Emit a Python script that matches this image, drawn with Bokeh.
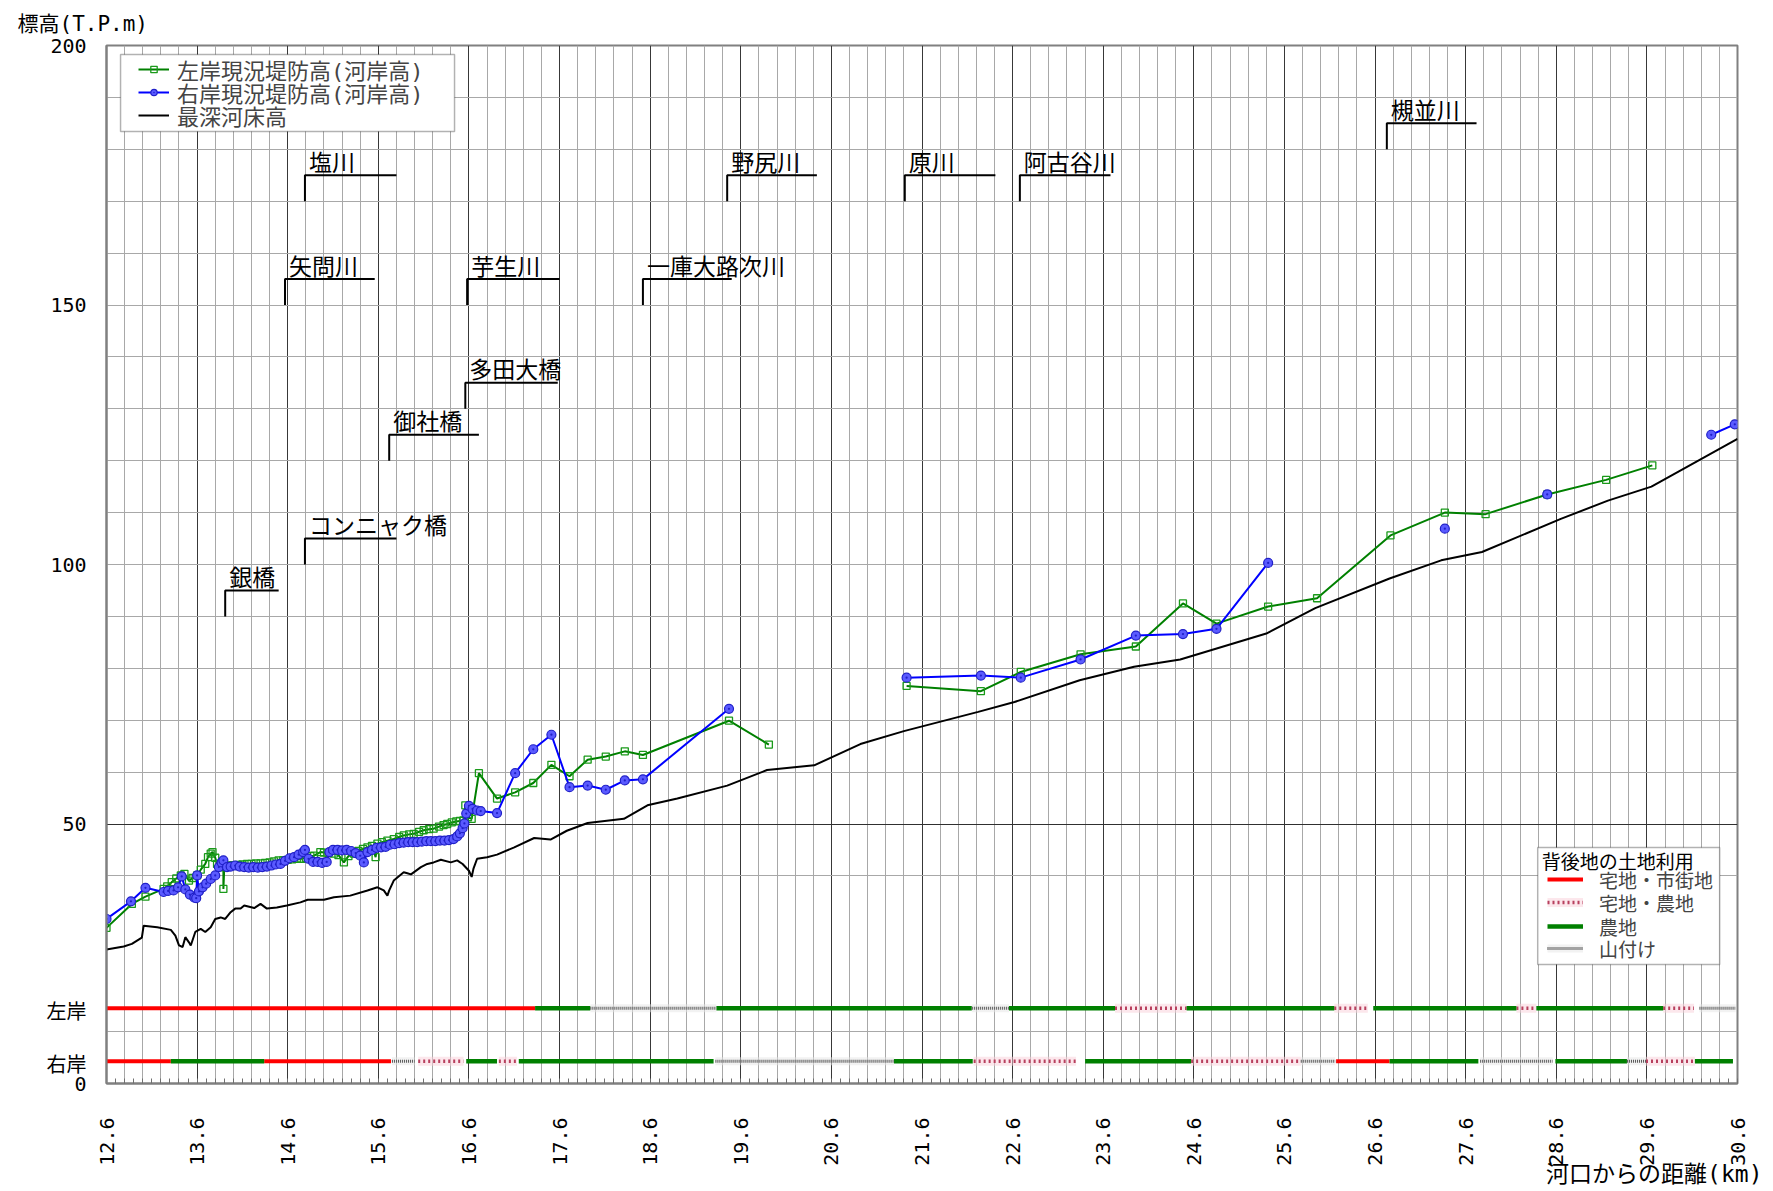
import math
import numpy as np
from bokeh.plotting import figure
from bokeh.models import (FixedTicker, CustomJSTickFormatter, Legend, LegendItem, Grid,
                          BoxAnnotation, Label, Title)
from bokeh.core.properties import value
from bokeh.embed import file_html
from bokeh.resources import INLINE

MONO = "DejaVu Sans Mono, Noto Sans CJK JP"
CJK = "Noto Sans CJK JP"

# ---- 最深河床高 (km from river mouth, elevation T.P.m) ----
bed_km = [12.60, 12.79, 12.88, 12.99, 13.01, 13.16, 13.31, 13.36, 13.40, 13.44, 13.47, 13.51,
          13.53, 13.58, 13.64, 13.69, 13.75, 13.80, 13.86, 13.91, 13.97, 14.02, 14.08, 14.12,
          14.23, 14.30, 14.37, 14.48, 14.59, 14.74, 14.82, 14.93, 15.00, 15.11, 15.29, 15.48,
          15.59, 15.66, 15.70, 15.72, 15.77, 15.88, 15.92, 15.96, 16.07, 16.14, 16.21, 16.29,
          16.40, 16.47, 16.53, 16.60, 16.63, 16.65, 16.69, 16.80, 16.91, 17.10, 17.32, 17.50,
          17.68, 17.91, 18.31, 18.57, 18.90, 19.45, 19.89, 20.41, 20.92, 21.40, 22.22, 22.62,
          23.34, 23.94, 24.45, 25.40, 25.94, 26.76, 27.33, 27.78, 28.65, 29.17, 29.65, 30.60]
bed_el = [25.8, 26.4, 26.9, 28.1, 30.4, 30.1, 29.6, 28.5, 26.6, 26.3, 28.2, 27.2,
          26.6, 29.2, 29.8, 29.2, 30.1, 31.7, 32.0, 31.7, 33.0, 33.7, 33.7, 34.3,
          33.8, 34.6, 33.7, 33.9, 34.3, 34.9, 35.4, 35.4, 35.4, 35.9, 36.2, 37.2,
          37.8, 37.2, 36.2, 37.2, 39.1, 40.7, 40.5, 40.3, 41.7, 42.3, 42.6, 43.1,
          42.6, 43.0, 42.3, 41.0, 39.8, 41.4, 43.3, 43.6, 44.1, 45.5, 47.3, 47.0,
          48.7, 50.2, 51.0, 53.6, 54.9, 57.4, 60.4, 61.3, 65.4, 67.9, 71.6, 73.5,
          77.7, 80.3, 81.7, 86.7, 91.6, 97.3, 100.8, 102.4, 108.8, 112.3, 115.0, 124.2]

# ---- 左岸現況堤防高 (河岸高) ----
left_km_1 = [12.60, 12.88, 13.03, 13.23, 13.27, 13.32, 13.37, 13.42, 13.46, 13.51, 13.55,
             13.60, 13.64, 13.69, 13.72, 13.75, 13.77, 13.80, 13.82, 13.86, 13.89, 13.89,
             13.90, 13.95, 14.00, 14.05, 14.10, 14.15, 14.20, 14.25, 14.30, 14.35, 14.40,
             14.45, 14.50, 14.55, 14.60, 14.65, 14.70, 14.75, 14.80, 14.85, 14.89, 14.96,
             15.00, 15.05, 15.11, 15.16, 15.22, 15.27, 15.33, 15.38, 15.43, 15.48, 15.53,
             15.57, 15.59, 15.64, 15.70, 15.77, 15.83, 15.88, 15.94, 15.99, 16.05, 16.10,
             16.16, 16.21, 16.27, 16.32, 16.36, 16.41, 16.46, 16.50, 16.54, 16.56, 16.59,
             16.63, 16.71, 16.91, 17.11, 17.31, 17.51, 17.71, 17.91, 18.11, 18.32, 18.52,
             19.47, 19.91]
left_el_1 = [30.0, 34.6, 36.0, 37.5, 38.0, 38.8, 39.5, 40.1, 40.4, 39.1, 39.6,
             40.1, 41.2, 42.3, 43.6, 44.3, 44.6, 43.5, 42.3, 41.8, 41.7, 37.5,
             41.7, 42.0, 42.0, 42.1, 42.2, 42.3, 42.3, 42.4, 42.4, 42.5, 42.6,
             42.8, 43.0, 43.0, 43.1, 43.2, 43.3, 43.3, 43.5, 43.8, 43.9, 44.6,
             44.5, 44.4, 44.3, 44.0, 42.6, 43.8, 44.3, 44.8, 45.2, 45.5, 45.8,
             43.6, 46.2, 46.5, 46.8, 47.1, 47.5, 47.8, 48.0, 48.1, 48.5, 48.8,
             49.0, 49.1, 49.5, 49.8, 50.0, 50.3, 50.5, 50.6, 50.7, 53.6, 51.3,
             51.0, 59.8, 54.9, 56.1, 57.9, 61.4, 59.2, 62.4, 63.0, 64.0, 63.3,
             69.9, 65.3]
left_km_2 = [21.43, 22.25, 22.69, 23.35, 23.96, 24.48, 24.85, 25.42, 25.96, 26.77, 27.37,
             27.82, 28.50, 29.15, 29.66]
left_el_2 = [76.6, 75.6, 79.3, 82.7, 84.2, 92.5, 88.6, 91.9, 93.5, 105.6, 110.0,
             109.7, 113.5, 116.3, 119.1]

# ---- 右岸現況堤防高 (河岸高) ----
right_km_1 = [12.60, 12.87, 13.03, 13.23, 13.28, 13.34, 13.39, 13.43, 13.47, 13.52, 13.57,
              13.59, 13.60, 13.62, 13.66, 13.70, 13.75, 13.80, 13.84, 13.87, 13.89, 13.93,
              13.97, 14.02, 14.07, 14.12, 14.17, 14.22, 14.27, 14.32, 14.37, 14.42, 14.47,
              14.52, 14.57, 14.62, 14.67, 14.72, 14.77, 14.79, 14.83, 14.88, 14.93, 14.98,
              15.03, 15.06, 15.10, 15.15, 15.20, 15.25, 15.30, 15.35, 15.40, 15.44, 15.48,
              15.53, 15.58, 15.63, 15.68, 15.73, 15.78, 15.83, 15.88, 15.93, 15.98, 16.03,
              16.08, 16.13, 16.18, 16.23, 16.28, 16.33, 16.38, 16.43, 16.47, 16.50, 16.53,
              16.55, 16.57, 16.60, 16.64, 16.69, 16.73, 16.91, 17.11, 17.31, 17.51, 17.71,
              17.91, 18.11, 18.32, 18.52, 19.47]
right_el_1 = [31.7, 35.1, 37.7, 36.9, 37.1, 37.2, 37.8, 39.9, 37.4, 36.4, 35.8,
              35.7, 40.1, 37.0, 37.8, 38.5, 39.4, 40.1, 41.7, 42.6, 43.0, 41.7,
              41.8, 42.0, 41.8, 41.7, 41.6, 41.7, 41.6, 41.7, 41.8, 42.0, 42.2,
              42.3, 42.9, 43.4, 43.6, 44.1, 44.6, 45.0, 43.3, 42.7, 42.7, 42.5,
              42.7, 44.6, 45.0, 45.0, 44.9, 45.0, 44.8, 44.4, 43.9, 42.6, 44.6,
              45.0, 45.4, 45.5, 45.6, 46.0, 46.1, 46.3, 46.4, 46.5, 46.5, 46.5,
              46.6, 46.7, 46.7, 46.7, 46.8, 46.8, 46.9, 47.1, 47.6, 48.2, 49.2,
              50.1, 52.0, 53.5, 52.9, 52.6, 52.5, 52.1, 59.8, 64.4, 67.2, 57.1,
              57.4, 56.6, 58.4, 58.6, 72.2]
right_km_2 = [21.43, 22.25, 22.69, 23.35, 23.96, 24.48, 24.85, 25.42]
right_el_2 = [78.2, 78.6, 78.2, 81.7, 86.3, 86.6, 87.6, 100.3]
right_km_3 = [27.37]
right_el_3 = [106.9]
right_km_4 = [28.50]
right_el_4 = [113.5]
right_km_5 = [30.31, 30.57]
right_el_5 = [125.0, 127.0]

# ---- 背後地の土地利用 (start km, end km, class) ----
LU_URBAN, LU_MIXED, LU_FARM, LU_MOUNT = "宅地・市街地", "宅地・農地", "農地", "山付け"
lb_start = [12.60, 17.33, 17.94, 19.33, 22.15, 22.56, 23.73, 24.52, 26.15, 26.58, 28.16, 28.38, 29.78, 30.18]
lb_end = [17.33, 17.94, 19.33, 22.15, 22.56, 23.73, 24.52, 26.15, 26.52, 28.16, 28.38, 29.78, 30.12, 30.58]
lb_type = [LU_URBAN, LU_FARM, LU_MOUNT, LU_FARM, LU_MOUNT, LU_FARM, LU_MIXED, LU_FARM, LU_MIXED,
           LU_FARM, LU_MIXED, LU_FARM, LU_MIXED, LU_MOUNT]
rb_start = [12.60, 13.31, 14.34, 15.75, 16.04, 16.57, 16.93, 17.15, 19.32, 21.29, 22.17, 23.40,
            24.57, 25.78, 26.17, 26.76, 27.76, 28.59, 29.38, 29.59, 30.13]
rb_end = [13.31, 14.34, 15.74, 16.00, 16.54, 16.91, 17.13, 19.30, 21.29, 22.16, 23.30, 24.57,
          25.78, 26.16, 26.76, 27.74, 28.56, 29.38, 29.59, 30.13, 30.55]
rb_type = [LU_URBAN, LU_FARM, LU_URBAN, LU_MOUNT, LU_MIXED, LU_FARM, LU_MIXED, LU_FARM, LU_MOUNT,
           LU_FARM, LU_MIXED, LU_FARM, LU_MIXED, LU_MOUNT, LU_URBAN, LU_FARM, LU_MOUNT, LU_FARM,
           LU_MOUNT, LU_MIXED, LU_FARM]
LB_ROW, RB_ROW = 14.5, 4.3

# ---- 支川・橋梁 ----
feat_name = ["銀橋", "コンニャク橋", "矢問川", "塩川", "御社橋", "多田大橋", "芋生川",
             "一庫大路次川", "野尻川", "原川", "阿古谷川", "槻並川"]
feat_km = [13.91, 14.79, 14.57, 14.79, 15.72, 16.56, 16.58, 18.52, 19.45, 21.41, 22.68, 26.73]
# call-out layout: foot elevation of each tick and the end of its underline
feat_foot = [90, 100, 150, 170, 120, 130, 150, 150, 170, 170, 170, 180]
feat_bar_end = [14.50, 15.80, 15.56, 15.80, 16.71, 17.58, 17.60, 19.50, 20.44, 22.41, 23.68, 27.72]


def join(*parts):
    xs, ys = [], []
    for i, (x, y) in enumerate(parts):
        if i:
            xs.append(np.nan)
            ys.append(np.nan)
        xs += list(x)
        ys += list(y)
    return xs, ys


p = figure(width=1773, height=1191, x_range=(12.6, 30.6), y_range=(0, 200),
           output_backend="svg", toolbar_location=None,
           min_border_left=106, min_border_right=36, min_border_top=45, min_border_bottom=108)
p.background_fill_color = "white"
p.border_fill_color = "white"
p.outline_line_color = "#808080"
p.outline_line_width = 2

# y-axis caption sits top-left, above the frame
p.title.text = "標高(T.P.m)"
p.title.align = "left"
p.title.vertical_align = "top"
p.title.offset = -89
p.title.standoff = 16
p.title.text_font = MONO
p.title.text_font_size = "21px"
p.title.text_font_style = "normal"
p.title.text_color = "black"

# grids
p.xgrid.visible = False
p.ygrid.visible = False
km_major = [round(12.6 + i, 1) for i in range(19)]
km_minor = [round(12.6 + 0.2 * i, 1) for i in range(91)]
km_minor = [k for k in km_minor if k not in km_major]
p.add_layout(Grid(dimension=0, ticker=FixedTicker(ticks=km_minor),
                  grid_line_color="#a8a8a8", grid_line_width=1))
p.add_layout(Grid(dimension=0, ticker=FixedTicker(ticks=km_major),
                  grid_line_color="#383838", grid_line_width=1))
p.add_layout(Grid(dimension=1, ticker=FixedTicker(ticks=[10, 40, 60, 70, 80, 90, 100, 110, 120, 130,
                                                         140, 150, 160, 170, 180, 190]),
                  grid_line_color="#a8a8a8", grid_line_width=1))
p.add_layout(Grid(dimension=1, ticker=FixedTicker(ticks=[50]),
                  grid_line_color="#303030", grid_line_width=1))

# x axis
p.xaxis.ticker = FixedTicker(ticks=km_major, minor_ticks=[round(12.6 + 0.1 * i, 1) for i in range(181)])
p.xaxis.formatter = CustomJSTickFormatter(code="return tick.toFixed(1);")
p.xaxis.major_label_orientation = math.pi / 2
p.xaxis.major_label_text_font = MONO
p.xaxis.major_label_text_font_size = "20px"
p.xaxis.major_label_text_color = "black"
p.xaxis.major_label_standoff = 34
p.xaxis.major_tick_line_color = None
p.xaxis.major_tick_out = 0
p.xaxis.major_tick_in = 0
p.xaxis.minor_tick_in = 5
p.xaxis.minor_tick_out = 0
p.xaxis.minor_tick_line_color = "#707070"
p.xaxis.axis_line_color = "#808080"
p.xaxis.axis_line_width = 2

# x-axis caption, right-aligned under the last tick labels
p.add_layout(Title(text="河口からの距離(km)", align="right", offset=-25, standoff=-16,
                   vertical_align="top", text_font=MONO, text_font_size="23px",
                   text_font_style="normal", text_color="black"), "below")

# y axis: elevations plus the two land-use row names
p.yaxis.ticker = FixedTicker(ticks=[0, 3.5, 13.7, 50, 100, 150, 200])
p.yaxis.formatter = CustomJSTickFormatter(
    code="if (Math.abs(tick - 13.7) < 0.01) return '左岸';"
         "if (Math.abs(tick - 3.5) < 0.01) return '右岸';"
         "return tick.toFixed(0);")
p.yaxis.major_label_text_font = MONO
p.yaxis.major_label_text_font_size = "20px"
p.yaxis.major_label_text_color = "black"
p.yaxis.major_label_standoff = 20
p.yaxis.major_tick_line_color = None
p.yaxis.major_tick_out = 0
p.yaxis.minor_tick_line_color = None
p.yaxis.axis_line_color = "#808080"
p.yaxis.axis_line_width = 2

# land use rows
STYLE = {
    LU_URBAN: [dict(line_color="#ff0000", line_width=4)],
    LU_MIXED: [dict(line_color="#f9d0da", line_width=9, line_alpha=0.5),
               dict(line_color="#b8405e", line_width=3.5, line_dash="2 3")],
    LU_FARM: [dict(line_color="#008000", line_width=4.5)],
    LU_MOUNT: [dict(line_color="#e6e6e6", line_width=8, line_alpha=0.5),
               dict(line_color="#555555", line_width=3, line_dash="1 1")],
}
landuse_renderers = {}
for lu in [LU_URBAN, LU_MIXED, LU_FARM, LU_MOUNT]:
    x0, x1, yy = [], [], []
    for s, e, t in zip(lb_start, lb_end, lb_type):
        if t == lu:
            x0.append(s); x1.append(e); yy.append(LB_ROW)
    for s, e, t in zip(rb_start, rb_end, rb_type):
        if t == lu:
            x0.append(s); x1.append(e); yy.append(RB_ROW)
    landuse_renderers[lu] = [p.segment(x0=x0, y0=yy, x1=x1, y1=yy, **st) for st in STYLE[lu]]

# profiles
bed_line = p.line(bed_km, bed_el, line_color="black", line_width=2)

lx, ly = join((left_km_1, left_el_1), (left_km_2, left_el_2))
left_line = p.line(lx, ly, line_color="#008000", line_width=2)
left_pts = p.scatter(lx, ly, marker="square", size=7, fill_color=None,
                     line_color="#1a9a1a", line_width=1.3)

rx, ry = join((right_km_1, right_el_1), (right_km_2, right_el_2), (right_km_3, right_el_3),
              (right_km_4, right_el_4), (right_km_5, right_el_5))
right_line = p.line(rx, ry, line_color="#0000ff", line_width=2)
right_pts = p.scatter(rx, ry, marker="circle_dot", size=9, fill_color="#5a5aff",
                      line_color="#2020c8", line_width=1.2)

# tributary / bridge call-outs
lead_xs = [[k, k, e] for k, e in zip(feat_km, feat_bar_end)]
lead_ys = [[f, f + 5, f + 5] for f in feat_foot]
p.multi_line(lead_xs, lead_ys, line_color="black", line_width=2)
p.text(x=feat_km, y=[f + 7.8 for f in feat_foot], text=feat_name, x_offset=4,
       text_font=value(CJK), text_font_size="23px", text_baseline="middle",
       text_align="left", text_color="black")


def legend_row(label, renderers, x, y, font_size, glyph_width, standoff):
    # one legend entry per row so the row pitch can be set exactly
    return Legend(items=[LegendItem(label=label, renderers=renderers)],
                  location=(x, y), orientation="vertical", margin=0, padding=0, spacing=0,
                  glyph_width=glyph_width, glyph_height=16, label_standoff=standoff,
                  label_height=32, label_text_font=MONO, label_text_font_size=font_size,
                  border_line_color=None, background_fill_alpha=0)


# legend: profiles
p.add_layout(BoxAnnotation(left=12.755, right=16.441, top=198.27, bottom=183.43,
                           fill_color="white", fill_alpha=1, line_color="black", line_width=1.5))
rows1 = [("左岸現況堤防高(河岸高)", [left_line, left_pts]),
         ("右岸現況堤防高(河岸高)", [right_line, right_pts]),
         ("最深河床高", [bed_line])]
for (lab, rs), yb in zip(rows1, [998, 975, 952]):
    p.add_layout(legend_row(lab, rs, 32, yb, "22px", 31, 8))

# legend: land use behind the levee
p.add_layout(BoxAnnotation(left=28.395, right=30.403, top=45.47, bottom=22.93,
                           fill_color="white", fill_alpha=1, line_color="black", line_width=1.5))
p.add_layout(Label(x=28.44, y=42.6, text="背後地の土地利用", text_font=MONO,
                   text_font_size="19px", text_baseline="middle", text_align="left",
                   text_color="black"))
for lu, yb in zip([LU_URBAN, LU_MIXED, LU_FARM, LU_MOUNT], [188, 165, 141, 119]):
    p.add_layout(legend_row(lu, landuse_renderers[lu], 1441, yb, "19px", 36, 16))

open("out.html", "w").write(file_html(p, INLINE))
